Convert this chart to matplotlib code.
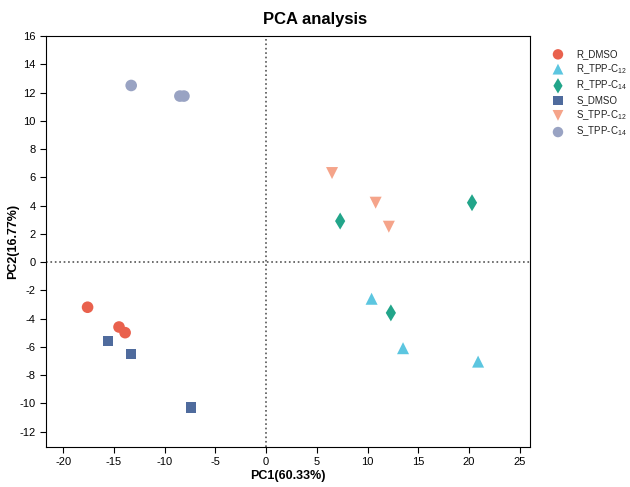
import matplotlib
matplotlib.use("Agg")
import matplotlib.pyplot as plt

plt.rcParams['font.family'] = ['Liberation Sans', 'DejaVu Sans']
plt.rcParams['axes.unicode_minus'] = False
plt.rcParams['mathtext.fontset'] = 'custom'
plt.rcParams['mathtext.rm'] = 'Liberation Sans'
plt.rcParams['mathtext.it'] = 'Liberation Sans'

groups = ['R_DMSO', 'R_TPP-C$_{12}$', 'R_TPP-C$_{14}$', 'S_DMSO', 'S_TPP-C$_{12}$', 'S_TPP-C$_{14}$']
pc1 = [
    [-17.6, -14.5, -13.9],
    [10.4, 13.5, 20.9],
    [7.3, 12.3, 20.3],
    [-15.6, -13.3, -7.4],
    [6.5, 10.8, 12.1],
    [-13.3, -8.5, -8.1],
]
pc2 = [
    [-3.2, -4.6, -5.0],
    [-2.6, -6.1, -7.05],
    [2.9, -3.6, 4.2],
    [-5.6, -6.5, -10.3],
    [6.3, 4.2, 2.5],
    [12.5, 11.75, 11.75],
]
colors = ['#E9614D', '#5CC6E0', '#22A58A', '#4F6B9D', '#F5A48A', '#99A3C3']
markers = ['o', '^', 'd', 's', 'v', 'o']
sizes = [70, 75, 75, 55, 75, 70]

fig = plt.figure(figsize=(6.3, 4.87), dpi=100)
ax = fig.add_axes([0.073, 0.082, 0.768, 0.844])

for g, x, y, c, m, s in zip(groups, pc1, pc2, colors, markers, sizes):
    ax.scatter(x, y, c=c, marker=m, s=s, label=g, edgecolors='none', zorder=3)

ax.axvline(0, color='#555555', linestyle=':', linewidth=1.2, zorder=1)
ax.axhline(0, color='#555555', linestyle=':', linewidth=1.2, zorder=1)

ax.set_xlim(-21.7, 26.0)
ax.set_ylim(-13.1, 16)
ax.set_xticks(range(-20, 30, 5))
ax.set_yticks(range(-12, 18, 2))
ax.tick_params(direction='out', length=4, labelsize=8, width=0.8)
for sp in ax.spines.values():
    sp.set_linewidth(0.8)

ax.set_xlabel('PC1(60.33%)', fontsize=9, fontweight='bold', labelpad=2)
ax.set_ylabel('PC2(16.77%)', fontsize=9, fontweight='bold', labelpad=0)
fig.suptitle('PCA analysis', fontsize=12, fontweight='bold', x=0.5, y=0.975)

leg = ax.legend(loc='upper left', bbox_to_anchor=(1.02, 0.99), frameon=False,
                fontsize=7, handletextpad=0.9, labelspacing=0.3, markerscale=0.9,
                borderaxespad=0.5)
for t in leg.get_texts():
    t.set_color('#222222')

fig.savefig('out.png', dpi=100)
